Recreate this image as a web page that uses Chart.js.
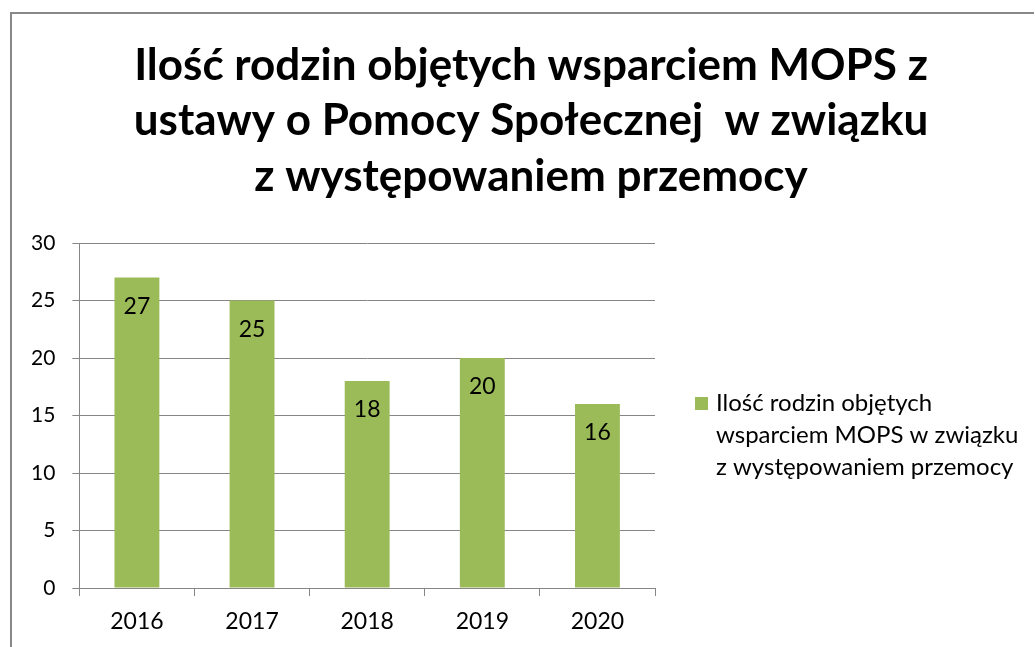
<!DOCTYPE html>
<html>
<head>
<meta charset="utf-8">
<script src="https://cdn.jsdelivr.net/npm/chart.js@4"></script>
<style>
html,body{margin:0;padding:0;background:#fff;}
#wrap{position:relative;width:1035px;height:647px;}
</style>
</head>
<body>
<div id="wrap"><canvas id="c" width="1035" height="647"></canvas></div>
<script>
const titleLines = ["Ilość rodzin objętych wsparciem MOPS z", "ustawy o Pomocy Społecznej  w związku", "z występowaniem przemocy"];
const categories = ["2016", "2017", "2018", "2019", "2020"];
const seriesLabel = "Ilość rodzin objętych wsparciem MOPS w związku z występowaniem przemocy";
const legendLines = ["Ilość rodzin objętych", "wsparciem MOPS w związku", "z występowaniem przemocy"];
const values = [27, 25, 18, 20, 16];
const yTicks = [0, 5, 10, 15, 20, 25, 30];

const FONT = "Lato, 'Open Sans', sans-serif";
const GREEN = "#9BBB59";
const GRID = "#868686";

const decor = {
  id: 'decor',
  beforeDraw(chart) {
    const ctx = chart.ctx;
    ctx.save();
    ctx.fillStyle = '#fff';
    ctx.fillRect(0, 0, chart.width, chart.height);
    ctx.strokeStyle = '#888';
    ctx.lineWidth = 2;
    ctx.beginPath();
    ctx.moveTo(11, 700);
    ctx.lineTo(11, 13);
    ctx.lineTo(1034, 13);
    ctx.stroke();
    ctx.restore();
  },
  afterDraw(chart) {
    const ctx = chart.ctx;
    ctx.save();
    // title
    ctx.fillStyle = '#000';
    ctx.font = "bold 44px " + FONT;
    ctx.textAlign = 'center';
    ctx.textBaseline = 'alphabetic';
    const tb = [80, 135, 191];
    titleLines.forEach((t, i) => ctx.fillText(t, 531, tb[i]));
    // legend
    ctx.fillStyle = GREEN;
    ctx.fillRect(695, 397, 13, 13);
    ctx.fillStyle = '#000';
    ctx.font = "24px " + FONT;
    ctx.textAlign = 'left';
    ctx.textBaseline = 'middle';
    legendLines.forEach((t, i) => ctx.fillText(t, 716, 403 + i * 32));
    // data labels
    const meta = chart.getDatasetMeta(0);
    ctx.font = "23px " + FONT;
    ctx.textAlign = 'center';
    meta.data.forEach((bar, i) => {
      ctx.fillText(String(values[i]), bar.x, bar.y + 29);
    });
    ctx.restore();
  }
};

new Chart(document.getElementById('c'), {
  type: 'bar',
  data: {
    labels: categories,
    datasets: [{
      label: seriesLabel,
      data: values,
      backgroundColor: GREEN,
      borderWidth: 0,
      barPercentage: 0.39,
      categoryPercentage: 1.0
    }]
  },
  options: {
    responsive: false,
    animation: false,
    devicePixelRatio: 1,
    layout: { padding: { left: 14, right: 380, top: 243, bottom: 0 } },
    plugins: {
      legend: { display: false },
      title: { display: false },
      tooltip: { enabled: false }
    },
    scales: {
      y: {
        min: 0, max: 30,
        afterBuildTicks(scale) { scale.ticks = yTicks.map(v => ({ value: v })); },
        grid: { color: GRID, lineWidth: 1, tickLength: 7, drawTicks: true },
        border: { color: GRID, width: 1 },
        ticks: { font: { family: FONT, size: 21 }, color: '#000', padding: 17 }
      },
      x: {
        offset: true,
        grid: { offset: true, drawOnChartArea: false, color: GRID, tickLength: 8 },
        border: { color: GRID, width: 1 },
        ticks: { font: { family: FONT, size: 23, lineHeight: 1.0 }, color: '#000', padding: 14 }
      }
    }
  },
  plugins: [decor]
});
</script>
</body>
</html>
